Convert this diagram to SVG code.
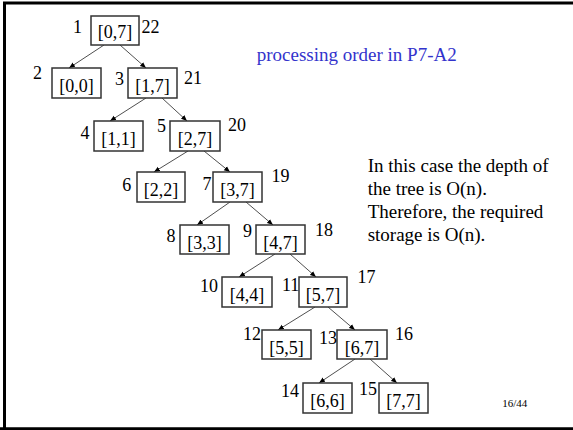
<svg xmlns="http://www.w3.org/2000/svg" width="573" height="430" viewBox="0 0 573 430">
<style>
text{font-family:"Liberation Serif","Times New Roman",serif;fill:#000}
.box{fill:#fff;stroke:#333;stroke-width:1.5}
.lbl{font-size:18px;text-anchor:middle}
.num{font-size:18px}
.edge{stroke:#222;stroke-width:0.8;fill:none;marker-end:url(#ah)}
.para{font-size:19px}
</style>
<defs>
<marker id="ah" viewBox="0 0 6 6" refX="6" refY="3" markerWidth="6" markerHeight="6" markerUnits="userSpaceOnUse" orient="auto">
<path d="M0,0.5 L6,3 L0,5.5 z" fill="#000"/>
</marker>
</defs>
<rect x="0" y="0" width="573" height="430" fill="#fff"/>
<path d="M4.5,430 V3 H573 M0,428.7 H573" stroke="#000" stroke-width="3" fill="none"/>
<g id="connectors">
<line class="edge" x1="104" y1="45" x2="69" y2="68"/>
<line class="edge" x1="120" y1="45" x2="146" y2="68"/>
<line class="edge" x1="146" y1="98" x2="110" y2="121"/>
<line class="edge" x1="162" y1="98" x2="187" y2="121"/>
<line class="edge" x1="188" y1="151" x2="154" y2="172"/>
<line class="edge" x1="204" y1="151" x2="230" y2="172"/>
<line class="edge" x1="230" y1="202" x2="197" y2="225"/>
<line class="edge" x1="246" y1="202" x2="273" y2="225"/>
<line class="edge" x1="275" y1="254" x2="239" y2="277"/>
<line class="edge" x1="290" y1="254" x2="316" y2="277"/>
<line class="edge" x1="315" y1="307" x2="278" y2="330"/>
<line class="edge" x1="328" y1="307" x2="355" y2="330"/>
<line class="edge" x1="355" y1="359" x2="319" y2="383"/>
<line class="edge" x1="370" y1="359" x2="397" y2="383"/>
</g>
<g id="n07"><rect class="box" x="91" y="16" width="48" height="29"/><text class="lbl" x="115" y="37.5">[0,7]</text><text class="num" x="73" y="33">1</text><text class="num" x="141.5" y="33">22</text></g>
<g id="n00"><rect class="box" x="52" y="68" width="49" height="30"/><text class="lbl" x="76.5" y="91.5">[0,0]</text><text class="num" x="33" y="78.5">2</text></g>
<g id="n17"><rect class="box" x="128" y="68" width="49" height="30"/><text class="lbl" x="152.5" y="91.5">[1,7]</text><text class="num" x="115" y="85">3</text><text class="num" x="184" y="83.5">21</text></g>
<g id="n11"><rect class="box" x="94" y="121" width="49" height="30"/><text class="lbl" x="118.5" y="144.5">[1,1]</text><text class="num" x="80.5" y="138.5">4</text></g>
<g id="n27"><rect class="box" x="170" y="121" width="50" height="30"/><text class="lbl" x="195" y="144.5">[2,7]</text><text class="num" x="157" y="131.5">5</text><text class="num" x="228" y="130.5">20</text></g>
<g id="n22"><rect class="box" x="137" y="172" width="48" height="30"/><text class="lbl" x="161" y="195.5">[2,2]</text><text class="num" x="122.3" y="191">6</text></g>
<g id="n37"><rect class="box" x="213" y="172" width="49" height="30"/><text class="lbl" x="237.5" y="195.5">[3,7]</text><text class="num" x="202.5" y="190">7</text><text class="num" x="271.5" y="181.5">19</text></g>
<g id="n33"><rect class="box" x="180" y="225" width="49" height="29"/><text class="lbl" x="204.5" y="248.5">[3,3]</text><text class="num" x="166.5" y="241.5">8</text></g>
<g id="n47"><rect class="box" x="256" y="225" width="49" height="29"/><text class="lbl" x="280.5" y="248.5">[4,7]</text><text class="num" x="243" y="236.5">9</text><text class="num" x="315" y="235.5">18</text></g>
<g id="n44"><rect class="box" x="222" y="277" width="50" height="30"/><text class="lbl" x="247" y="301">[4,4]</text><text class="num" x="200" y="292">10</text></g>
<g id="n57"><rect class="box" x="299" y="277" width="48" height="30"/><text class="lbl" x="323" y="301">[5,7]</text><text class="num" x="282" y="290.5">11</text><text class="num" x="357.5" y="282.5">17</text></g>
<g id="n55"><rect class="box" x="262" y="330" width="49" height="29"/><text class="lbl" x="286.5" y="353.5">[5,5]</text><text class="num" x="243" y="340">12</text></g>
<g id="n67"><rect class="box" x="337" y="330" width="50" height="29"/><text class="lbl" x="362" y="353.5">[6,7]</text><text class="num" x="319" y="344">13</text><text class="num" x="395" y="340">16</text></g>
<g id="n66"><rect class="box" x="303" y="383" width="49" height="30"/><text class="lbl" x="327.5" y="406.5">[6,6]</text><text class="num" x="281" y="396.5">14</text></g>
<g id="n77"><rect class="box" x="379" y="383" width="49" height="30"/><text class="lbl" x="403.5" y="406.5">[7,7]</text><text class="num" x="359" y="395">15</text></g>
<text x="256.7" y="60.7" font-size="19" style="fill:#3333cc">processing order in P7-A2</text>
<g class="para">
<text class="para" x="367.7" y="171.7">In this case the depth of</text>
<text class="para" x="367.7" y="194.7">the tree is O(n).</text>
<text class="para" x="367.7" y="217.7">Therefore, the required</text>
<text class="para" x="367.7" y="240.7">storage is O(n).</text>
</g>
<text x="502.3" y="406.7" font-size="11">16/44</text>
</svg>
